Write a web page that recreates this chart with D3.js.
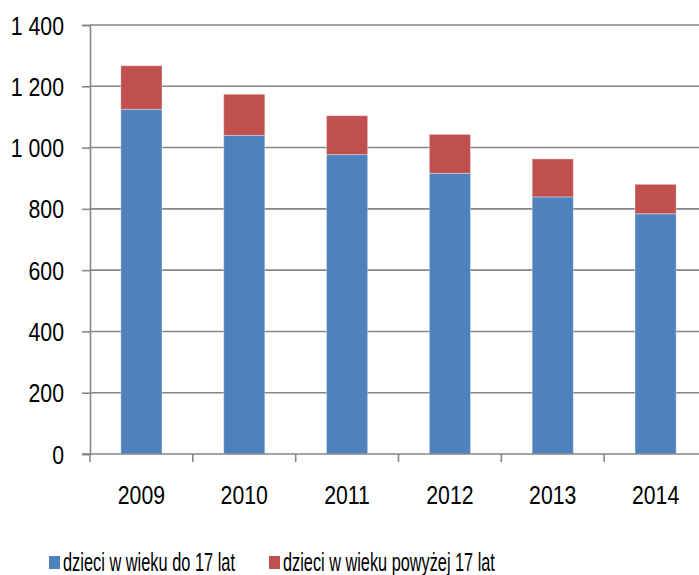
<!DOCTYPE html>
<html>
<head>
<meta charset="utf-8">
<script src="https://cdn.jsdelivr.net/npm/d3@7"></script>
<style>
  body { margin: 0; background: #fff; }
  svg text { font-family: "Liberation Sans", Arial, sans-serif; fill: #000; }
</style>
</head>
<body>
<svg id="chart"></svg>
<script>
var width = 699,
    height = 575;

// data
var years = ["2009", "2010", "2011", "2012", "2013", "2014"];
var under17 = [1125, 1040, 977, 916, 839, 784];
var over17 = [142, 134, 127, 127, 124, 96];
var seriesNames = ["dzieci w wieku do 17 lat", "dzieci w wieku powyżej 17 lat"];
var colors = ["#4f81bd", "#c0504d"];
var yTicks = [0, 200, 400, 600, 800, 1000, 1200, 1400];

var svg = d3.select("#chart").attr("width", width).attr("height", height);

var x = d3.scaleBand().domain(years).range([90, 707]).paddingInner(0.6).paddingOuter(0.3);
var y = d3.scaleLinear().domain([0, 1400]).range([454, 25]);

var fmt = function(d) {
  return d3.format(",")(d).replace(/,/g, " ");
};

// narrow look: squeeze glyphs like Arial Narrow
function narrow(sel, k) {
  sel.each(function() {
    var w = this.getComputedTextLength();
    d3.select(this).attr("textLength", w * (k || 0.85)).attr("lengthAdjust", "spacingAndGlyphs");
  });
}

// grid lines
svg.append("g").selectAll("line")
  .data(yTicks.filter(function(d) { return d > 0; }))
  .enter().append("line")
  .attr("x1", 90).attr("x2", width)
  .attr("y1", function(d) { return y(d); })
  .attr("y2", function(d) { return y(d); })
  .attr("stroke", "#868686").attr("stroke-width", 1.6);

// stacked bars
var rows = years.map(function(yr, i) { return { year: yr, a: under17[i], b: over17[i] }; });
var stacked = d3.stack().keys(["a", "b"])(rows);

svg.append("g").selectAll("g")
  .data(stacked)
  .enter().append("g")
  .attr("fill", function(d, i) { return colors[i]; })
  .selectAll("rect")
  .data(function(d) { return d; })
  .enter().append("rect")
  .attr("x", function(d) { return x(d.data.year); })
  .attr("width", x.bandwidth())
  .attr("y", function(d) { return y(d[1]); })
  .attr("height", function(d) { return y(d[0]) - y(d[1]); })
  .attr("stroke", "rgba(255,255,255,0.35)").attr("stroke-width", 1);

// y axis
var yAxis = svg.append("g").attr("transform", "translate(90,0)")
  .call(d3.axisLeft(y).tickValues(yTicks).tickSize(8).tickPadding(18).tickFormat(fmt));
yAxis.select(".domain").attr("stroke", "#868686").attr("stroke-width", 1.6);
yAxis.selectAll(".tick line").attr("stroke", "#868686").attr("stroke-width", 1.6);
yAxis.selectAll("text").style("font-size", "25px").attr("dy", "0.36em").call(narrow);

// x axis
var step = x.step();
var xAxis = svg.append("g").attr("transform", "translate(0,454)");
xAxis.append("line").attr("x1", 82).attr("x2", width).attr("stroke", "#868686").attr("stroke-width", 1.6);
xAxis.selectAll(".xt")
  .data(years)
  .enter().append("line")
  .attr("class", "xt")
  .attr("x1", function(d) { return x(d) + x.bandwidth() / 2 - step / 2; })
  .attr("x2", function(d) { return x(d) + x.bandwidth() / 2 - step / 2; })
  .attr("y1", 0).attr("y2", 8)
  .attr("stroke", "#868686").attr("stroke-width", 1.6);
xAxis.selectAll("text")
  .data(years)
  .enter().append("text")
  .attr("x", function(d) { return x(d) + x.bandwidth() / 2; })
  .attr("y", 50)
  .attr("text-anchor", "middle")
  .style("font-size", "25px")
  .text(function(d) { return d; })
  .call(narrow);

// legend - squeezed with a transform so the box matches what is drawn
var legX = [49, 269];
var legLen = [172, 212];
seriesNames.forEach(function(name, i) {
  svg.append("rect").attr("x", legX[i]).attr("y", 556).attr("width", 11).attr("height", 13).attr("fill", colors[i]);
  var t = svg.append("text").attr("x", 0).attr("y", 0).attr("dy", "0.36em")
    .style("font-size", "25px").text(name);
  var w = t.node().getComputedTextLength();
  t.attr("transform", "translate(" + (legX[i] + 14) + ",562) scale(" + (legLen[i] / w) + ",1)");
});
</script>
</body>
</html>
